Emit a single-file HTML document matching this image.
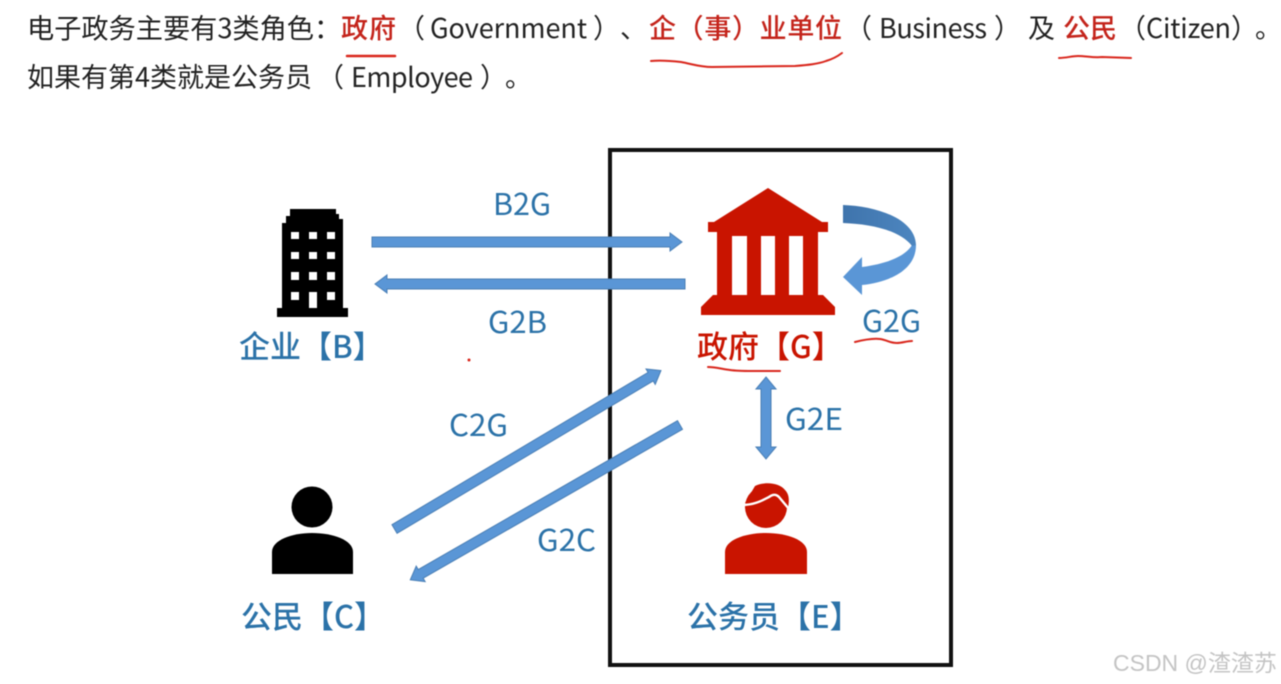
<!DOCTYPE html>
<html lang="zh-CN"><head><meta charset="utf-8"><style>
html,body{margin:0;padding:0;background:#fff}
svg{display:block;filter:blur(.4px)}
text{font-family:"Liberation Sans","Noto Sans CJK SC",sans-serif}
.c{font-family:"Noto Sans CJK SC","Liberation Sans",sans-serif}
.t{font-size:27px;fill:#222}
.r{font-size:27px;fill:#c4241b;font-weight:500}
.l{font-size:30px;fill:#2b72a8}
.n{font-size:31px;fill:#2b72a8;font-weight:500}
.u{fill:none;stroke:#d9261c;stroke-width:2;stroke-linecap:round;stroke-linejoin:round}
.a{fill:#5a96d6;stroke:#4a7fb5;stroke-width:1}
</style></head><body>
<svg width="1281" height="684" viewBox="0 0 1281 684" xmlns="http://www.w3.org/2000/svg">
<defs><linearGradient id="g" x1="0" y1="0" x2="1" y2="0"><stop offset="0" stop-color="#3f74ac"/><stop offset="1" stop-color="#4d86c0"/></linearGradient></defs>
<rect width="1281" height="684" fill="#fff"/>
<g class="c">
<text class="c t" x="27" y="38" style="font-size:27.2px">电子政务主要有3类角色&#xFF1A;</text>
<text class="c r" x="341" y="38" textLength="55">政府</text>
<text class="c t" x="398" y="38">&#xFF08;</text>
<text class="c t" x="430" y="38" textLength="157">Government</text>
<text class="c t" x="593" y="38">&#xFF09;</text>
<text class="c t" x="620" y="38">&#x3001;</text>
<text class="c r" x="649" y="38" textLength="193">企&#xFF08;事&#xFF09;业单位</text>
<text class="c t" x="845" y="38">&#xFF08;</text>
<text class="c t" x="879" y="38" textLength="108">Business</text>
<text class="c t" x="994" y="38">&#xFF09;</text>
<text class="c t" x="1028" y="38">及</text>
<text class="c r" x="1063" y="38" textLength="54">公民</text>
<text class="c t" x="1119" y="38">&#xFF08;</text>
<text class="c t" x="1146" y="38" textLength="85">Citizen</text>
<text class="c t" x="1231" y="38">&#xFF09;</text>
<text class="c t" x="1255" y="38">&#x3002;</text>
<text class="c t" x="27" y="87" textLength="285">如果有第4类就是公务员</text>
<text class="c t" x="317" y="87">&#xFF08;</text>
<text class="c t" x="351" y="87" textLength="122">Employee</text>
<text class="c t" x="480" y="87">&#xFF09;</text>
<text class="c t" x="505" y="87">&#x3002;</text>
</g>
<path class="u" style="stroke-width:2.5" d="M347 56H395"/>
<path class="u" d="M651 61C662 60 672 61 681 62C692 64 700 67 712 67L795 66C808 65 818 64 826 61C833 59 838 56 842 53"/>
<path class="u" d="M1059 58C1066 58 1072 56 1078 56C1086 56 1094 58 1102 57L1131 58"/>
<rect x="610" y="150" width="341" height="515" fill="none" stroke="#111" stroke-width="4"/>
<path fill="#c91400" d="M768 188L822 222H828V232H818V295H823L835 307V315H701V307L713 295H717V232H708V222H714Z"/>
<g fill="#fff"><rect x="732" y="236" width="15" height="59"/><rect x="761" y="236" width="14" height="59"/><rect x="789" y="236" width="14" height="59"/></g>
<path fill="#5a96d6" d="M912 245C905 257 885 264 862 267V257L843 277L862 295V285C890 282 916 270 916 245Z"/>
<path fill="url(#g)" d="M843 205C875 206 915 218 916 245L912 246C900 230 870 224 843 223Z"/>
<path fill="#000" d="M290 209H336V214H339V219H343V308H348V317H277V308H282V223H286V216H290Z"/>
<g fill="#fff">
<rect x="291" y="232" width="8" height="7"/><rect x="309" y="232" width="8" height="7"/><rect x="327" y="232" width="8" height="7"/>
<rect x="291" y="252" width="8" height="7"/><rect x="309" y="252" width="8" height="7"/><rect x="327" y="252" width="8" height="7"/>
<rect x="291" y="272" width="8" height="8"/><rect x="309" y="272" width="8" height="8"/><rect x="327" y="272" width="8" height="8"/>
<rect x="291" y="292" width="8" height="8"/><rect x="309" y="292" width="8" height="16"/><rect x="327" y="292" width="8" height="8"/>
</g>
<circle cx="312" cy="507" r="20.5" fill="#000"/>
<path fill="#000" d="M272 574V552C272 540 292 533 312 533C333 533 353 540 353 552V574Z"/>
<path fill="#c91400" d="M725 574V552C725 540 745 533 766 533C787 533 807 540 807 552V574Z"/>
<circle cx="766" cy="507" r="21" fill="#c91400"/>
<path fill="#c91400" d="M755 486C765 481 780 483 785 490C790 495 789 502 788 508L770 500L745 503Z"/>
<path fill="none" stroke="#fff" stroke-width="2.4" d="M742 505C755 505 763 500 769 497C773 494 776 494 779 497L789 509"/>
<polygon class="a" points="372,237 670,237 670,233 682,242 670,251 670,247 372,247"/>
<polygon class="a" points="685,279 387,279 387,275 375,284 387,293 387,289 685,289"/>
<polygon class="a" transform="translate(394.5,529) rotate(-30.74)" points="0,-5 298,-5 298,-9 310,0 298,9 298,5 0,5"/>
<polygon class="a" transform="translate(680,425) rotate(150.14)" points="0,-5 299,-5 299,-9 311,0 299,9 299,5 0,5"/>
<polygon class="a" points="766,377 776,389 771,389 771,447 776,447 766,459 756,447 761,447 761,389 756,389"/>
<text class="c l" x="493" y="215" textLength="58" lengthAdjust="spacingAndGlyphs">B2G</text>
<text class="c l" x="488" y="333" textLength="59" lengthAdjust="spacingAndGlyphs">G2B</text>
<text class="c l" x="449" y="436" textLength="59" lengthAdjust="spacingAndGlyphs">C2G</text>
<text class="c l" x="537" y="551" textLength="59" lengthAdjust="spacingAndGlyphs">G2C</text>
<text class="c l" x="785" y="430" textLength="58" lengthAdjust="spacingAndGlyphs">G2E</text>
<text class="c l" x="862" y="332" textLength="59" lengthAdjust="spacingAndGlyphs">G2G</text>
<text class="c n" x="239" y="358">企业【B】</text>
<text class="c n" x="697" y="358" style="fill:#c91400">政府【G】</text>
<text class="c n" x="241" y="628">公民【C】</text>
<text class="c n" x="687" y="628">公务员【E】</text>
<path class="u" d="M855 342C863 340 872 338 880 339C887 340 890 343 897 343C902 343 907 341 912 341"/>
<path class="u" d="M708 367C715 367 722 369 730 370C737 371 745 371 752 371L780 371"/>
<circle cx="469" cy="360" r="1.5" fill="#d9261c"/>
<text x="1113" y="671" style="font-size:23px;fill:#c4c4c4;font-family:'Liberation Sans','Noto Sans CJK SC',sans-serif">CSDN @渣渣苏</text>
</svg>
</body></html>
